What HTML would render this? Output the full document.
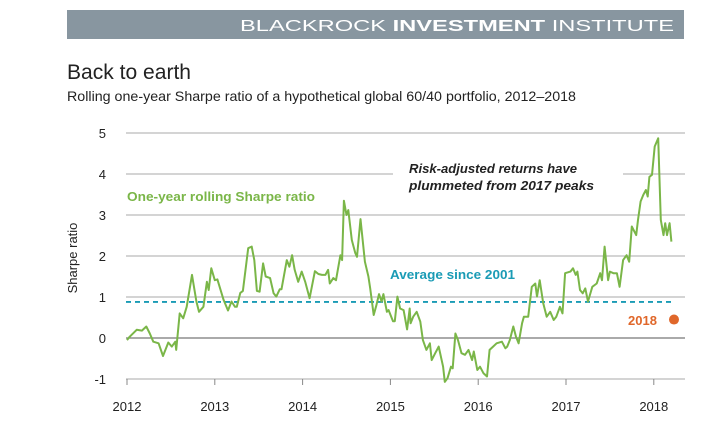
<!DOCTYPE html>
<html><head><meta charset="utf-8"><style>
html,body{margin:0;padding:0;background:#fff;}
svg{display:block;font-family:"Liberation Sans",sans-serif;}
</style></head><body>
<svg id="chart" width="727" height="427" viewBox="0 0 727 427">
  <rect x="67" y="10" width="617" height="29" fill="#8896a0"/>
  <text x="674" y="31" text-anchor="end" fill="#fff" font-size="16" textLength="434" lengthAdjust="spacingAndGlyphs">BLACKROCK <tspan font-weight="bold">INVESTMENT</tspan> INSTITUTE</text>
  <text x="67" y="79" font-size="21" fill="#222" textLength="124" lengthAdjust="spacingAndGlyphs">Back to earth</text>
  <text x="67" y="101" font-size="14" fill="#222" textLength="509" lengthAdjust="spacingAndGlyphs">Rolling one-year Sharpe ratio of a hypothetical global 60/40 portfolio, 2012–2018</text>
  <g id="grid"></g>
  <g id="axes"></g>
  <text transform="translate(77,258) rotate(-90)" text-anchor="middle" font-size="13" fill="#222">Sharpe ratio</text>
  <text x="127" y="201" font-size="13" font-weight="bold" fill="#7ab648" textLength="188" lengthAdjust="spacingAndGlyphs">One-year rolling Sharpe ratio</text>
  <text x="409" y="173" font-size="13" font-weight="bold" font-style="italic" fill="#222" textLength="168" lengthAdjust="spacingAndGlyphs">Risk-adjusted returns have</text>
  <text x="409" y="190" font-size="13" font-weight="bold" font-style="italic" fill="#222" textLength="185" lengthAdjust="spacingAndGlyphs">plummeted from 2017 peaks</text>
  <text x="390" y="279" font-size="13" font-weight="bold" fill="#1a9bb5" textLength="125" lengthAdjust="spacingAndGlyphs">Average since 2001</text>
  <text x="628" y="325" font-size="13" font-weight="bold" fill="#e0672a">2018</text>
  <g id="marks"></g>
</svg>
<script>
const yTicks = [-1,0,1,2,3,4,5];
const xTickLabels = ["2012","2013","2014","2015","2016","2017","2018"];
const xTickYears = [0,1,2,3,4,5,6];
const averageValue = 0.88;
const marker2018 = 0.45;
const seriesT = [0.00,0.03,0.11,0.17,0.22,0.26,0.30,0.36,0.41,0.47,0.51,0.55,0.56,0.60,0.64,0.68,0.74,0.79,0.82,0.87,0.91,0.93,0.96,1.00,1.03,1.10,1.15,1.19,1.23,1.25,1.29,1.32,1.38,1.42,1.45,1.48,1.51,1.55,1.58,1.63,1.67,1.70,1.74,1.76,1.82,1.85,1.88,1.91,1.95,1.99,2.03,2.08,2.14,2.18,2.22,2.26,2.29,2.31,2.35,2.38,2.43,2.45,2.47,2.50,2.52,2.56,2.60,2.62,2.66,2.71,2.75,2.77,2.81,2.84,2.87,2.90,2.92,2.96,2.98,3.03,3.05,3.08,3.11,3.15,3.19,3.22,
3.23,3.26,3.30,3.34,3.37,3.41,3.45,3.47,3.51,3.55,3.60,3.62,3.65,3.69,3.71,3.74,3.77,3.81,3.85,3.89,3.93,3.95,3.99,4.02,4.06,4.10,4.13,4.17,4.21,4.27,4.31,4.33,4.36,4.40,4.43,4.46,4.50,4.52,4.57,4.61,4.65,4.67,4.70,4.74,4.78,4.82,4.86,4.89,4.93,4.96,4.99,5.05,5.08,5.11,5.13,5.16,5.19,5.22,5.25,5.30,5.35,5.39,5.41,5.44,5.48,5.50,5.54,5.58,5.61,5.65,5.69,5.72,5.75,5.80,5.82,5.85,5.88,5.91,5.93,5.95,5.98,6.01,6.05,6.08,6.11,6.13,6.15,6.18,6.20,6.22];
const seriesV = [-0.05,0.03,0.20,0.18,0.28,0.11,-0.09,-0.13,-0.44,-0.11,-0.21,-0.09,-0.29,0.60,0.48,0.76,1.54,0.89,0.64,0.76,1.37,1.17,1.70,1.41,1.43,0.93,0.67,0.89,0.76,0.76,1.10,1.15,2.19,2.23,1.90,1.15,1.13,1.82,1.50,1.46,1.09,1.01,1.19,1.19,1.90,1.74,2.02,1.66,1.37,1.62,1.37,0.97,1.63,1.56,1.54,1.54,1.66,1.33,1.46,1.41,2.02,1.90,3.35,3.00,3.12,2.39,2.07,1.98,2.90,1.86,1.50,1.21,0.56,0.80,1.07,0.89,1.07,0.64,0.68,0.41,0.41,1.01,0.72,0.68,0.21,0.72,
0.36,0.52,0.64,0.40,-0.05,-0.29,-0.13,-0.54,-0.37,-0.21,-0.70,-1.07,-0.98,-0.70,-0.74,0.11,-0.05,-0.37,-0.41,-0.29,-0.54,-0.33,-0.78,-0.70,-0.86,-0.94,-0.29,-0.21,-0.13,-0.09,-0.25,-0.21,-0.05,0.28,0.03,-0.13,0.36,0.52,0.52,1.25,1.33,1.01,1.41,0.85,0.52,0.64,0.44,0.52,0.76,0.60,1.58,1.62,1.70,1.54,1.62,1.17,1.09,1.21,0.89,1.25,1.33,1.58,1.41,2.23,1.41,1.62,1.58,1.58,1.25,1.90,2.02,1.86,2.72,2.51,2.88,3.33,3.49,3.61,3.45,3.93,3.98,4.67,4.87,2.88,2.51,2.80,2.51,2.80,2.35];

const NS="http://www.w3.org/2000/svg";
const X0=127, PX_PER_YEAR=87.8, Y0=338, PX_PER_UNIT=41;
function xS(t){return X0+t*PX_PER_YEAR;}
function yS(v){return Y0-v*PX_PER_UNIT;}
function mk(tag,attrs,parent){const e=document.createElementNS(NS,tag);for(const k in attrs)e.setAttribute(k,attrs[k]);parent.appendChild(e);return e;}
const grid=document.getElementById('grid'), axes=document.getElementById('axes'), marks=document.getElementById('marks');

yTicks.forEach(v=>{
  const y=yS(v);
  if(v===4){
    const a=mk('line',{x1:126,x2:393,y1:y,y2:y,stroke:'#aaa','stroke-width':1},grid);
    
    
    const b=mk('line',{x1:623,x2:685,y1:y,y2:y,stroke:'#aaa','stroke-width':1},grid);
    
    
  } else {
    const g=mk('line',{x1:126,x2:685,y1:y,y2:y,stroke:v===0?'#777':'#aaa','stroke-width':v===0?1.3:1},grid);
    
    
  }
  const t=mk('text',{x:106,y:y+5,'text-anchor':'end','font-size':13,fill:'#222'},axes);
  t.textContent=String(v);
  
  
});
xTickYears.forEach((yr,i)=>{
  const x=xS(yr);
  const tk=mk('line',{x1:x,x2:x,y1:yS(-1),y2:yS(-1)+6,stroke:'#888','stroke-width':1},axes);
  
  
  const t=mk('text',{x:x,y:411,'text-anchor':'middle','font-size':13,fill:'#222'},axes);
  t.textContent=xTickLabels[i];
  
  
});
const avg=mk('line',{x1:126,x2:672,y1:yS(averageValue),y2:yS(averageValue),stroke:'#1a9bb5','stroke-width':1.8,'stroke-dasharray':'5,4'},marks);


const d=seriesT.map((t,i)=>(i?'L':'M')+xS(t).toFixed(1)+','+yS(seriesV[i]).toFixed(1)).join('');
const p=mk('path',{d:d,fill:'none',stroke:'#7ab648','stroke-width':2,'stroke-linejoin':'round'},marks);


const dot=mk('circle',{cx:674,cy:yS(marker2018),r:5,fill:'#e0672a'},marks);


</script>
</body></html>
